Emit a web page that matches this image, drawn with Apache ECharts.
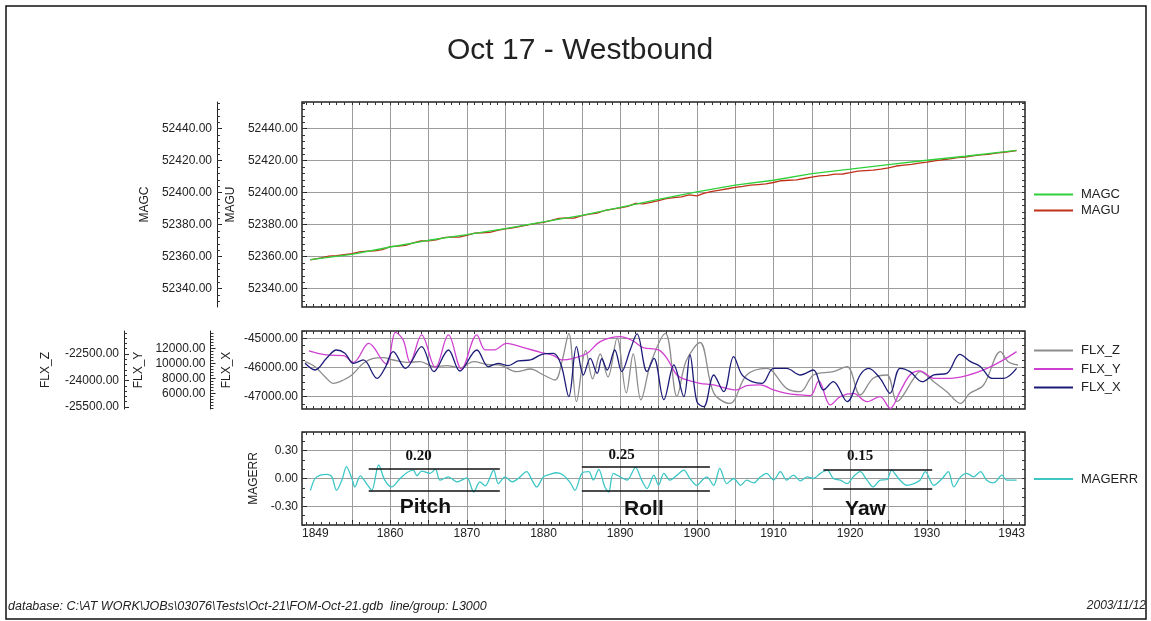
<!DOCTYPE html>
<html><head><meta charset="utf-8">
<script src="https://cdn.jsdelivr.net/npm/echarts@6/dist/echarts.min.js"></script>
<style>html,body{margin:0;padding:0;background:#fff}#c{width:1151px;height:621px}</style>
</head><body><div id="c"></div>
<script>
const FONT = 'Liberation Sans, Arial, sans-serif';
function seq(a, b, s){ const r=[]; for(let v=a; v<=b+1e-9; v+=s) r.push(Math.round(v*1000)/1000); return r; }

// ---- axis ticks / labels ----
const xMin = 1848.5, xMax = 1942.8;
const xGridTicks = [1855,1860,1865,1870,1875,1880,1885,1890,1895,1900,1905,1910,1915,1920,1925,1930,1935,1940];
const xLabelTicks = [1848.5,1860,1870,1880,1890,1900,1910,1920,1930,1942.8];
const xMinorTicks = seq(1849, 1942, 1);
const magTicks = [52340,52360,52380,52400,52420,52440];
const magMinor = seq(52332, 52456, 4);
const flxXTicks = [-47000,-46000,-45000];
const flxXMinor = seq(-47250, -44750, 250);
const flxYTicks = [6000,8000,10000,12000];
const flxYMinor = seq(4000, 14000, 400);
const flxZTicks = [-25500,-24000,-22500];
const flxZMinor = seq(-25500, -21300, 300);
const magerrTicks = [-0.3,0,0.3];
const magerrMinor = seq(-0.5, 0.5, 0.1);

// ---- series data [fiducial, value] ----
const magc = [[1849.6,52358.1],[1855,52361.4],[1860,52366.0],[1865,52370.2],[1870,52373.7],[1875,52377.5],[1880,52381.7],[1885,52385.8],[1890,52390.8],[1895,52395.8],[1900,52400.4],[1905,52404.6],[1910,52407.7],[1915,52411.9],[1920,52414.6],[1925,52417.5],[1930,52420.2],[1935,52422.7],[1940,52425.4],[1941.7,52426.4]];
const magu = [[1849.6,52358.0],[1851,52359.2],[1852,52360.3],[1853,52360.6],[1854,52361.2],[1855,52361.8],[1856,52362.9],[1857,52363.4],[1858,52363.6],[1859,52364.4],[1860,52366.2],[1861,52366.6],[1862,52367.0],[1863,52368.6],[1864,52369.8],[1865,52369.8],[1866,52370.4],[1867,52371.8],[1868,52372.3],[1869,52372.2],[1870,52373.2],[1871,52374.6],[1872,52374.9],[1873,52375.2],[1874,52376.4],[1875,52377.3],[1876,52378.0],[1877,52378.9],[1878,52379.8],[1879,52380.7],[1880,52381.4],[1881,52382.6],[1882,52383.9],[1883,52384.2],[1884,52384.0],[1885,52385.6],[1886,52386.6],[1887,52387.2],[1888,52388.8],[1889,52389.6],[1890,52390.4],[1891,52391.4],[1892,52393.2],[1893,52392.9],[1894,52393.9],[1895,52395.0],[1896,52396.2],[1897,52396.8],[1898,52397.3],[1899,52398.6],[1900,52398.0],[1901,52399.6],[1902,52400.8],[1903,52401.6],[1904,52402.4],[1905,52403.3],[1906,52403.9],[1907,52404.6],[1908,52405.0],[1909,52405.4],[1910,52406.3],[1911,52407.4],[1912,52407.7],[1913,52407.9],[1914,52408.8],[1915,52409.6],[1916,52410.4],[1917,52410.7],[1918,52411.5],[1919,52411.6],[1920,52412.4],[1921,52413.4],[1922,52413.7],[1923,52414.0],[1924,52414.7],[1925,52415.5],[1926,52416.6],[1927,52417.2],[1928,52417.6],[1929,52418.4],[1930,52419.0],[1931,52419.8],[1932,52420.5],[1933,52421.0],[1934,52421.8],[1935,52422.2],[1936,52422.9],[1937,52423.6],[1938,52423.9],[1939,52424.6],[1940,52425.2],[1941,52425.8],[1941.7,52426.2]];

const flxZ = [[1848.9,-22934],[1850.2,-23217],[1851.5,-23783],[1852.6,-24161],[1853.9,-23972],[1855.0,-23689],[1856.5,-23028],[1857.8,-22745],[1859.1,-22708],[1860.4,-22840],[1862.2,-22972],[1863.9,-22934],[1865.7,-23217],[1867.4,-23160],[1869.1,-23274],[1870.9,-22934],[1872.6,-23085],[1874.3,-23123],[1876.5,-23500],[1878.3,-23349],[1880.0,-23689],[1881.5,-23972],[1882.4,-22934],[1883.3,-21330],[1884.3,-25198],[1885.5,-22300],[1886.4,-23900],[1887.4,-22500],[1888.4,-23800],[1889.6,-21600],[1890.8,-24700],[1891.7,-22500],[1892.7,-25100],[1894.0,-23000],[1895.9,-21330],[1897.4,-24900],[1898.6,-22900],[1900.4,-21850],[1902.2,-24700],[1904.3,-25300],[1906.5,-23689],[1909.1,-23311],[1911.7,-24444],[1913.5,-24632],[1915.2,-23689],[1917.8,-23500],[1919.6,-23217],[1921.3,-24821],[1923.0,-23877],[1924.8,-23689],[1926.1,-25198],[1928.3,-23877],[1929.1,-23500],[1930.9,-24066],[1932.6,-24632],[1934.4,-25293],[1935.6,-24727],[1937.4,-24255],[1939.6,-22368],[1940.6,-22934],[1941.9,-23123]];

const flxY = [[1849.4,11644],[1851.7,11111],[1853.9,11022],[1855.2,10133],[1857.2,12667],[1859.1,10222],[1859.6,9867],[1860.7,14133],[1861.7,13111],[1862.6,10133],[1864.1,13778],[1865.9,9422],[1867.6,13778],[1869.3,9244],[1871.3,13778],[1872.4,11778],[1873.5,11778],[1875.2,12667],[1877.4,12089],[1879.6,11467],[1881.3,11022],[1882.4,10444],[1883.9,10667],[1885.7,11333],[1887.4,12889],[1890.0,13556],[1891.7,12978],[1893.0,12089],[1895.0,11778],[1896.1,10667],[1897.4,8444],[1898.7,7778],[1900.4,7333],[1902.2,7111],[1903.9,6667],[1905.2,6444],[1906.5,7022],[1908.3,7111],[1910.0,6444],[1911.7,6000],[1913.5,5778],[1914.8,5689],[1915.9,7644],[1917.4,4444],[1918.7,5556],[1920.4,6000],[1922.2,4889],[1923.9,5556],[1925.2,4000],[1926.5,6222],[1927.8,8444],[1929.1,8978],[1930.9,8000],[1933.0,8000],[1935.2,8356],[1937.4,9111],[1939.6,10222],[1941.7,11556]];

const flxX = [[1848.9,-45857],[1850.2,-46085],[1851.7,-45685],[1853.0,-45400],[1854.1,-45514],[1855.2,-45857],[1856.5,-45742],[1858.3,-46370],[1859.3,-46028],[1860.4,-45457],[1862.0,-46028],[1864.1,-45286],[1865.7,-46142],[1867.6,-45400],[1869.1,-46119],[1871.3,-45400],[1872.8,-45971],[1874.1,-45857],[1875.4,-45936],[1876.7,-45777],[1878.3,-45742],[1879.8,-45548],[1881.3,-45514],[1882.3,-45914],[1883.3,-46999],[1884.3,-45286],[1885.2,-46256],[1886.1,-45685],[1887.0,-46199],[1887.6,-45700],[1888.3,-46085],[1889.3,-45400],[1890.2,-46140],[1891.3,-45400],[1892.2,-44850],[1893.5,-46140],[1894.4,-45685],[1895.7,-47100],[1897.0,-45914],[1898.3,-46999],[1899.1,-45571],[1900.0,-47170],[1900.9,-47341],[1902.2,-46256],[1903.5,-46827],[1904.8,-45628],[1905.9,-46256],[1907.2,-46485],[1908.5,-46542],[1910.0,-46028],[1911.7,-46028],[1913.5,-46256],[1915.2,-46085],[1916.5,-46771],[1917.8,-46485],[1919.6,-47170],[1921.3,-46256],[1922.4,-46028],[1923.9,-46370],[1925.2,-46884],[1926.5,-46028],[1927.8,-46142],[1929.4,-46485],[1930.9,-46256],[1932.6,-46199],[1934.3,-45548],[1935.7,-45800],[1937.0,-45971],[1938.5,-46370],[1940.0,-46370],[1941.7,-46028]];

const magerr = [[1849.6,-0.127],[1850.2,0],[1850.9,0.036],[1851.7,0.044],[1852.4,0.018],[1853.0,-0.127],[1853.7,-0.018],[1854.3,0.127],[1855.0,0],[1855.4,-0.091],[1856.1,0.029],[1857.0,-0.065],[1857.6,-0.127],[1858.5,0.145],[1859.3,-0.018],[1860.2,-0.091],[1861.3,0],[1862.2,0.065],[1863.0,0.091],[1863.5,0.029],[1864.1,0.08],[1865.2,0.055],[1865.9,0.1],[1866.5,-0.018],[1867.6,0.018],[1868.7,-0.036],[1870.0,0.007],[1870.9,-0.145],[1871.7,-0.036],[1872.4,-0.08],[1873.5,0.091],[1874.1,-0.055],[1875.0,0.018],[1875.9,-0.036],[1876.7,0],[1877.8,0.073],[1878.5,-0.018],[1879.1,-0.091],[1880.0,0.018],[1880.9,0.047],[1881.7,0.062],[1882.6,0.036],[1883.5,-0.047],[1884.1,-0.127],[1885.0,0.055],[1885.9,0.073],[1886.5,-0.018],[1887.2,0.098],[1888.0,-0.091],[1888.5,-0.145],[1889.1,0.055],[1890.0,0.018],[1890.9,-0.018],[1892.0,0.12],[1892.8,-0.018],[1893.5,-0.109],[1894.4,0.036],[1895.0,-0.073],[1895.7,0.055],[1896.5,-0.018],[1897.4,0.036],[1898.3,0.091],[1899.1,0],[1900.0,-0.073],[1900.7,-0.018],[1901.3,0.018],[1902.2,-0.073],[1903.0,0.109],[1903.9,-0.055],[1904.8,0],[1905.7,-0.073],[1906.5,-0.018],[1907.4,-0.047],[1908.3,0.018],[1909.1,0.055],[1910.0,-0.018],[1910.9,0.073],[1911.7,-0.018],[1912.6,0.036],[1913.5,-0.025],[1914.4,0.018],[1915.2,0],[1916.1,0.055],[1917.0,0.091],[1917.8,0],[1918.7,-0.018],[1919.6,-0.055],[1920.4,0.018],[1921.3,0.073],[1922.2,-0.018],[1923.0,-0.091],[1923.9,-0.018],[1924.8,-0.011],[1925.4,0.091],[1926.3,0],[1927.4,-0.073],[1928.3,-0.055],[1929.1,-0.018],[1929.8,0.073],[1930.9,-0.073],[1932.0,0],[1932.8,0.073],[1933.5,-0.091],[1934.4,0.018],[1935.2,0.055],[1936.1,0.018],[1937.0,0.073],[1937.8,-0.018],[1938.7,-0.047],[1939.8,0.036],[1940.4,-0.018],[1941.7,-0.018]];

// ---- annotations on MAGERR ----
const annotNames = ['Pitch','Roll','Yaw'];
const annotX0 = [1857.2, 1885.0, 1916.5];
const annotX1 = [1874.3, 1901.7, 1930.7];
const annotHi = [0.101, 0.127, 0.091];
const annotLo = [-0.135, -0.135, -0.109];
const annotAmp = ['0.20', '0.25', '0.15'];
const annotAmpPos = [[1863.7,0.236],[1890.2,0.254],[1921.3,0.236]];
const annotLblPos = [[1864.6,-0.31],[1893.1,-0.327],[1922.0,-0.327]];

const GRID_LEFT = 302, GRID_W = 723;
const gridLine = {show:true, lineStyle:{color:'#9c9c9c', width:1}};
const labelStyle = {fontSize:12, color:'#222', fontFamily:FONT};

function xAxis(gi, showLabels){
  return {type:'value', gridIndex:gi, min:xMin, max:xMax, position:'bottom',
    axisLine:{show:false, onZero:false},
    axisTick:{show:showLabels, customValues: xGridTicks, length:5, inside:true, lineStyle:{color:'#222'}},
    splitLine:gridLine,
    axisLabel:{show:showLabels, customValues:xLabelTicks, margin:3, alignMinLabel:'left', alignMaxLabel:'right',
      formatter:v=>String(Math.round(v)), ...labelStyle}
  };
}
function xTickAxis(gi, pos){
  return {type:'value', gridIndex:gi, min:xMin, max:xMax, position:pos,
    axisLine:{show:false, onZero:false}, splitLine:{show:false}, axisLabel:{show:false},
    axisTick:{show:true, inside:true, length:3, customValues:xMinorTicks, lineStyle:{color:'#333'}}};
}
function yAxis(gi, name, min, max, ticks, dec, offset, nameGap, split){
  return {type:'value', gridIndex:gi, name:name, nameLocation:'middle', nameRotate:90, nameGap:nameGap,
    nameTextStyle:{fontSize:12, color:'#222', fontFamily:FONT},
    min:min, max:max, offset:offset, position:'left',
    axisLine:{show:offset>0, onZero:false, lineStyle:{color:'#222', width:1}},
    axisTick:{show:true, customValues:ticks, length:5, inside:true, lineStyle:{color:'#222'}},
    axisLabel:{customValues:ticks, margin:offset>0?5:4, formatter:v=>v.toFixed(dec), ...labelStyle},
    splitLine: split ? gridLine : {show:false}
  };
}
function yTickAxis(gi, min, max, values, pos, offset){
  return {type:'value', gridIndex:gi, min:min, max:max, position:pos, offset:offset,
    axisLine:{show:false, onZero:false}, splitLine:{show:false}, axisLabel:{show:false},
    axisTick:{show:true, inside:true, length:3, customValues:values, lineStyle:{color:'#333'}}};
}

const annotLines = [], annotPoints = [];
annotNames.forEach((n,i)=>{
  annotLines.push([{coord:[annotX0[i],annotHi[i]]},{coord:[annotX1[i],annotHi[i]]}]);
  annotLines.push([{coord:[annotX0[i],annotLo[i]]},{coord:[annotX1[i],annotLo[i]]}]);
  annotPoints.push({name:annotAmp[i], coord:annotAmpPos[i],
    label:{fontFamily:'Liberation Serif, Times New Roman, serif', fontWeight:'bold', fontSize:15, color:'#111'}});
  annotPoints.push({name:n, coord:annotLblPos[i],
    label:{fontFamily:FONT, fontWeight:'bold', fontSize:21, color:'#111'}});
});

const lineSeries = (name, data, xi, yi, color, smooth, z) => ({
  name, type:'line', data, xAxisIndex:xi, yAxisIndex:yi, symbol:'none', showSymbol:false,
  smooth, z, lineStyle:{color, width:1.3}, itemStyle:{color}, animation:false
});

const legendBase = {orient:'vertical', left:1028, itemWidth:39, itemHeight:14, selectedMode:false,
  itemStyle:{opacity:0}, textStyle:{fontSize:13, color:'#222', fontFamily:FONT, padding:[0,0,0,3]}};

const chart = echarts.init(document.getElementById('c'), null, {renderer:'canvas'});
chart.setOption({
  backgroundColor:'#fff',
  animation:false,
  title:[
    {text:'Oct 17 - Westbound', left:442, top:31, textStyle:{fontSize:30, fontWeight:'normal', color:'#222', fontFamily:FONT}},
    {text:'database: C:\\AT WORK\\JOBs\\03076\\Tests\\Oct-21\\FOM-Oct-21.gdb  line/group: L3000', left:3, top:595,
      textStyle:{fontSize:12.5, fontStyle:'italic', fontWeight:'normal', color:'#222', fontFamily:FONT}},
    {text:'2003/11/12', right:0, top:595, textStyle:{fontSize:12, fontStyle:'italic', fontWeight:'normal', color:'#222', fontFamily:FONT}}
  ],
  grid:[
    {left:GRID_LEFT, width:GRID_W, top:102, height:205, show:true, borderColor:'#222', borderWidth:1.5, containLabel:false},
    {left:GRID_LEFT, width:GRID_W, top:331, height:78, show:true, borderColor:'#222', borderWidth:1.5, containLabel:false},
    {left:GRID_LEFT, width:GRID_W, top:432, height:93, show:true, borderColor:'#222', borderWidth:1.5, containLabel:false}
  ],
  xAxis:[xAxis(0,false), xAxis(1,false), xAxis(2,true),
    xTickAxis(0,'top'), xTickAxis(0,'bottom'), xTickAxis(1,'top'), xTickAxis(1,'bottom'), xTickAxis(2,'top'), xTickAxis(2,'bottom')],
  yAxis:[
    yAxis(0,'MAGU',52328.5,52456.6,magTicks,2,0,63,true),
    yAxis(0,'MAGC',52328.5,52456.6,magTicks,2,85,65,false),
    yAxis(1,'FLX_X',-47421,-44750,flxXTicks,2,0,67,true),
    yAxis(1,'FLX_Y',3907,14307,flxYTicks,2,91.5,66,false),
    yAxis(1,'FLX_Z',-25613,-21198,flxZTicks,2,178,72,false),
    yAxis(2,'MAGERR',-0.5,0.5,magerrTicks,2,0,41,true),
    yTickAxis(0,52328.5,52456.6,magMinor,'left',0),
    yTickAxis(0,52328.5,52456.6,magMinor,'right',0),
    yTickAxis(0,52328.5,52456.6,magMinor,'left',85),
    yTickAxis(1,-47421,-44750,flxXMinor,'left',0),
    yTickAxis(1,-47421,-44750,flxXMinor,'right',0),
    yTickAxis(1,3907,14307,flxYMinor,'left',91.5),
    yTickAxis(1,-25613,-21198,flxZMinor,'left',178),
    yTickAxis(2,-0.5,0.5,magerrMinor,'left',0),
    yTickAxis(2,-0.5,0.5,magerrMinor,'right',0)
  ],
  legend:[
    Object.assign({data:['MAGC','MAGU'], top:183, itemGap:3}, legendBase),
    Object.assign({data:['FLX_Z','FLX_Y','FLX_X'], top:339, itemGap:5.5}, legendBase),
    Object.assign({data:['MAGERR'], top:467.5}, legendBase)
  ],
  graphic:[
    {type:'rect', shape:{x:6, y:6, width:1140, height:613}, style:{fill:'none', stroke:'#111', lineWidth:1.5}, silent:true, z:-1}
  ],
  series:[
    lineSeries('MAGU', magu, 0, 0, '#c0311a', false, 2),
    lineSeries('MAGC', magc, 0, 1, '#2fd13a', false, 3),
    lineSeries('FLX_Z', flxZ, 1, 4, '#8c8c8c', 0.35, 2),
    lineSeries('FLX_Y', flxY, 1, 3, '#d040d0', 0.35, 3),
    lineSeries('FLX_X', flxX, 1, 2, '#1c1c78', 0.35, 4),
    Object.assign(lineSeries('MAGERR', magerr, 2, 5, '#3cc6c6', 0.3, 2), {
      markLine:{silent:true, symbol:['none','none'], animation:false, label:{show:false},
        lineStyle:{color:'#111', width:1.5, type:'solid'}, emphasis:{disabled:true}, data:annotLines},
      markPoint:{silent:true, symbol:'circle', symbolSize:0, animation:false,
        label:{show:true, position:'inside', formatter:'{b}'}, data:annotPoints}
    })
  ]
});
</script></body></html>
